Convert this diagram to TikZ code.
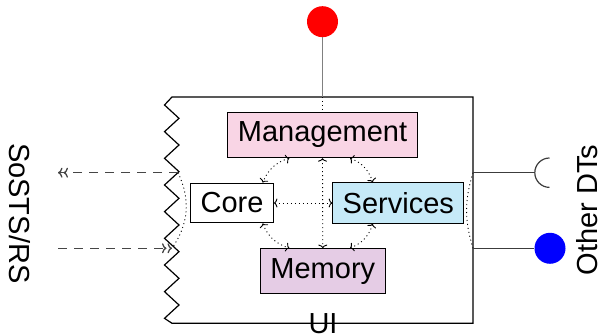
\documentclass[tikz,border=0pt]{standalone}
\usepackage{fontspec}
\setmainfont{Liberation Sans}
\usetikzlibrary{arrows.meta,calc}
\definecolor{mgmtpink}{RGB}{249,213,229}
\definecolor{servblue}{RGB}{198,234,248}
\definecolor{mempurple}{RGB}{229,204,229}
\definecolor{wire}{RGB}{60,60,60}
\definecolor{extline}{RGB}{70,70,70}
\begin{document}
\begin{tikzpicture}[x=1pt,y=1pt,
  every node/.style={font=\fontsize{29}{34}\selectfont},
  block/.style={draw=black, line width=1pt, inner xsep=10pt, inner ysep=9.7pt},
  frame/.style={draw=black, line width=1.2pt},
  link/.style={black, line width=0.9pt, dash pattern=on 1pt off 3pt,
    {To[width=9pt,length=3.5pt]}-{To[width=9pt,length=3.5pt]}},
  linkplain/.style={black, line width=0.9pt, dash pattern=on 1pt off 3pt},
  extflow/.style={extline, line width=1.3pt, dash pattern=on 9pt off 7pt,
    -{To[width=10pt,length=4.5pt,sep=1pt]To[width=10pt,length=4.5pt]}},
  port/.style={wire, line width=1.2pt},
  ball/.style={circle, inner sep=0pt, minimum size=31pt}]
\useasboundingbox (0,0) rectangle (600,336);

% enclosing component with the jagged left border
\draw[frame] (473,239) -- (172,239) -- (164.5,231)
  -- (179,217.67) -- (164.5,204.33) -- (179,191) -- (164.5,177.67)
  -- (179,164.33) -- (164.5,151) -- (179,137.67) -- (164.5,124.33)
  -- (179,111) -- (164.5,97.67) -- (179,84.33) -- (164.5,71)
  -- (179,57.67) -- (164.5,44.33) -- (179,31) -- (164.5,17.67)
  -- (172,12.7) -- (473,12.7) -- cycle;

% ports on the border
\coordinate (topPort) at (322.5,239);
\coordinate (soOut) at (178,163.3);
\coordinate (soIn) at (172,87.7);
\coordinate (extOut) at (58,163.3);
\coordinate (extIn) at (58,87.7);
\coordinate (reqPort) at (473,163.3);
\coordinate (provPort) at (473,87.7);
\coordinate (sockEnd) at (535,163.3);

% inner blocks
\node[block, fill=mgmtpink] (mgmt) at (322.5,201) {Management};
\node[block, fill=white] (core) at (232,133) {Core};
\node[block, fill=servblue] (serv) at (398.3,133) {Services};
\node[block, fill=mempurple] (mem) at (322.8,64.7) {Memory};

% internal interactions
\draw[link] (core.east) -- (serv.west);
\draw[link] (mgmt.south) -- (mem.north);
\draw[link] ($(mgmt.south)+(-33.2,0)$) to[bend right=25] ($(core.north)+(30.7,0)$);
\draw[link] ($(mgmt.south)+(27.5,0)$) to[bend left=25] ($(serv.north)+(-25.6,0)$);
\draw[link] ($(core.south)+(30.7,0)$) to[bend right=25] ($(mem.north)+(-33.5,0)$);
\draw[link] ($(serv.south)+(-25.6,0)$) to[bend left=25] ($(mem.north)+(27.2,0)$);
\draw[linkplain] (topPort) -- (mgmt.north);
\draw[linkplain] (soOut) to[bend left=30] (soIn);
\draw[linkplain] (reqPort) to[bend right=17] (provPort);

% UI port on top
\node[ball, fill=red] (uiBall) at (322.5,314.3) {};
\draw[gray, line width=1.6pt] (uiBall.south) -- (topPort);

% exchanges with SoSTS/RS
\draw[extflow] (soOut) -- (extOut);
\draw[extflow] (extIn) -- (soIn);

% interfaces to other digital twins
\draw[port] (reqPort) -- (sockEnd);
\draw[port] (sockEnd) ++(14.5,14.7) arc[start angle=90, end angle=270, radius=14.7];
\node[ball, fill=blue] (provBall) at (550,87.7) {};
\draw[port] (provPort) -- (provBall.west);

% labels
\node[rotate=-90, inner sep=0pt] (sos) at (20.3,122.7) {SoSTS/RS};
\node[rotate=90, inner sep=0pt] (odt) at (586.8,126) {Other DTs};
\node[inner sep=0pt] (ui) at (323,12.3) {UI};
\end{tikzpicture}
\end{document}
